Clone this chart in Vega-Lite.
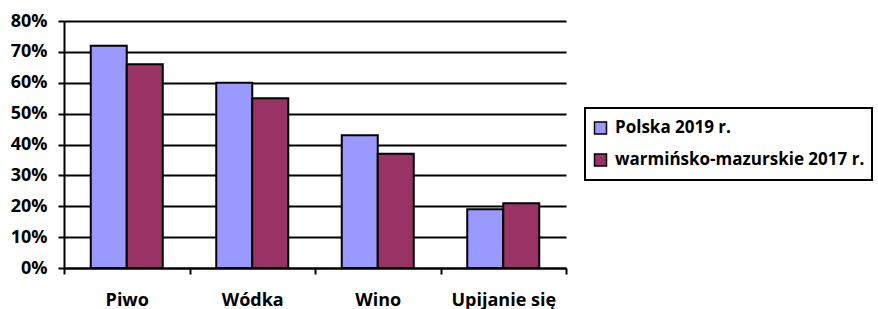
{
  "$schema": "https://vega.github.io/schema/vega-lite/v6.json",
  "width": 502,
  "height": 247,
  "autosize": "none",
  "padding": {"left": 64, "top": 21, "right": 312, "bottom": 41},
  "background": "white",
  "data": {
    "values": [
      {"kat": "Piwo", "seria": "Polska 2019 r.", "v": 0.72},
      {"kat": "Piwo", "seria": "warmińsko-mazurskie 2017 r.", "v": 0.66},
      {"kat": "Wódka", "seria": "Polska 2019 r.", "v": 0.60},
      {"kat": "Wódka", "seria": "warmińsko-mazurskie 2017 r.", "v": 0.55},
      {"kat": "Wino", "seria": "Polska 2019 r.", "v": 0.43},
      {"kat": "Wino", "seria": "warmińsko-mazurskie 2017 r.", "v": 0.37},
      {"kat": "Upijanie się", "seria": "Polska 2019 r.", "v": 0.19},
      {"kat": "Upijanie się", "seria": "warmińsko-mazurskie 2017 r.", "v": 0.21}
    ]
  },
  "mark": {"type": "bar", "stroke": "black", "strokeWidth": 2},
  "encoding": {
    "x": {
      "field": "kat", "type": "nominal", "sort": null, "title": null,
      "scale": {"paddingInner": 0, "paddingOuter": 0},
      "axis": {
        "labelAngle": 0, "tickBand": "extent", "domainColor": "black", "domainWidth": 2,
        "tickColor": "black", "tickWidth": 2, "tickSize": 6, "labelPadding": 17,
        "labelFont": "Open Sans", "labelFontWeight": "bold", "labelFontSize": 18, "labelColor": "black"
      }
    },
    "xOffset": {"field": "seria", "type": "nominal", "sort": null, "scale": {"paddingInner": 0, "paddingOuter": 0.743}},
    "y": {
      "field": "v", "type": "quantitative", "title": null,
      "scale": {"domain": [0, 0.8], "nice": false},
      "axis": {
        "values": [0, 0.1, 0.2, 0.3, 0.4, 0.5, 0.6, 0.7, 0.8], "format": ".0%",
        "grid": true, "gridColor": "black", "gridWidth": 2, "gridOpacity": 1,
        "domainColor": "black", "domainWidth": 2, "tickColor": "black", "tickWidth": 2, "tickSize": 6,
        "labelPadding": 11, "labelFont": "Open Sans", "labelFontWeight": "bold", "labelFontSize": 18, "labelColor": "black"
      }
    },
    "fill": {
      "field": "seria", "type": "nominal", "sort": null, "title": null,
      "scale": {"domain": ["Polska 2019 r.", "warmińsko-mazurskie 2017 r."], "range": ["#9999FF", "#993366"]},
      "legend": {
        "orient": "none", "legendX": 521, "legendY": 87,
        "strokeColor": "black", "fillColor": "white", "padding": 7,
        "symbolType": "square", "symbolSize": 144, "symbolStrokeColor": "black", "symbolStrokeWidth": 1.5,
        "labelFont": "Open Sans", "labelFontWeight": "bold", "labelFontSize": 17, "labelColor": "black",
        "labelOffset": 6, "clipHeight": 26, "rowPadding": 6, "labelLimit": 400,
        "encode": {"legend": {"update": {"strokeWidth": {"value": 2}}}}
      }
    }
  },
  "config": {"view": {"stroke": null}}
}
